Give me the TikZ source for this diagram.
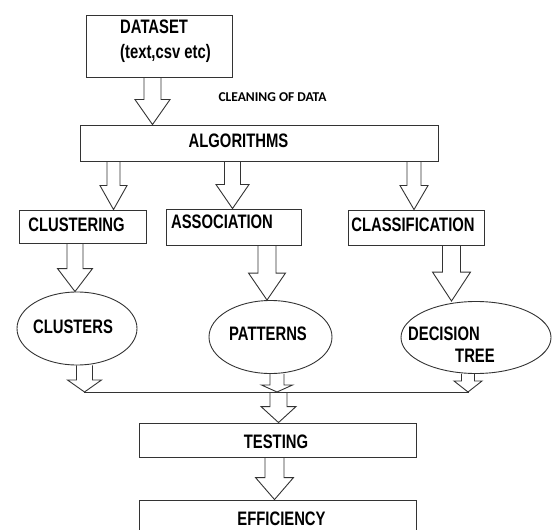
\documentclass[tikz,border=0pt]{standalone}
\usepackage{fontspec}
\setmainfont{Liberation Sans}[FakeStretch=0.76]
\newfontfamily\notefont{Carlito}
\usetikzlibrary{shapes.geometric,calc}

\tikzset{
  outline/.style={draw=black!80, line width=0.9bp},
  box/.style={outline, rectangle, inner sep=0pt},
  oval/.style={outline, ellipse, inner sep=0pt},
  lbl/.style={inner sep=0pt, font=\fontsize{19.5bp}{25bp}\selectfont\bfseries},
  note/.style={inner sep=0pt, font=\notefont\fontsize{13.5bp}{15bp}\selectfont\bfseries},
  hollow/.style={outline, line join=miter},
}

% open-topped block arrow: #1 source point, #2 target point, #3 x position,
% #4 shaft half width, #5 head half width, #6 head length (all in bp)
\newcommand\hollowarrow[6]{%
  \draw[hollow] let \p1=(#1), \p2=(#2) in
    (#3bp-#4bp,\y1) -- (#3bp-#4bp,\y2+#6bp) -- (#3bp-#5bp,\y2+#6bp)
    -- (#3bp,\y2) -- (#3bp+#5bp,\y2+#6bp) -- (#3bp+#4bp,\y2+#6bp)
    -- (#3bp+#4bp,\y1);
}

\begin{document}
\begin{tikzpicture}[x=1bp, y=-1bp]
  \path[use as bounding box] (0,0) rectangle (552,530);
  \clip (0,0) rectangle (552,530);

  % input
  \node[box, minimum width=146bp, minimum height=62bp] (dataset) at (159,46) {};
  \node[lbl, align=left, anchor=west] (datasettxt) at (120,41.5) {DATASET\\(text,csv etc)};
  \node[note] (cleaning) at (272.5,97) {CLEANING OF DATA};

  % algorithms
  \node[box, minimum width=358bp, minimum height=36bp] (alg) at (259,143) {};
  \node[lbl] (algtxt) at (238.5,141) {ALGORITHMS};

  \node[box, minimum width=127bp, minimum height=33bp] (clustering) at (82.5,226.5) {};
  \node[lbl] (clusteringtxt) at (76.5,225) {CLUSTERING};
  \node[box, minimum width=135bp, minimum height=36bp] (association) at (233.5,227) {};
  \node[lbl] (associationtxt) at (222,221.5) {ASSOCIATION};
  \node[box, minimum width=136bp, minimum height=35bp] (classification) at (416,227.5) {};
  \node[lbl] (classificationtxt) at (413,224.5) {CLASSIFICATION};

  % results
  \node[oval, minimum width=120bp, minimum height=73bp] (clusters) at (77,328.5) {};
  \node[lbl] (clusterstxt) at (73,326.5) {CLUSTERS};
  \node[oval, minimum width=123bp, minimum height=73bp] (patterns) at (270.5,337) {};
  \node[lbl] (patternstxt) at (268,334) {PATTERNS};
  \node[oval, minimum width=150bp, minimum height=72bp] (dtree) at (476,337.5) {};
  \node[lbl, align=left, anchor=west] (dtreetxt) at (408,344.75) {DECISION\\[-2.5bp]\hspace*{47bp}TREE};

  % collecting line
  \coordinate (busL) at (84,392);
  \coordinate (busR) at (469,392);
  \draw[outline] (busL) -- (busR);

  % evaluation
  \node[box, minimum width=277bp, minimum height=34bp] (testing) at (277.5,440) {};
  \node[lbl] (testingtxt) at (276,441.5) {TESTING};
  \node[box, minimum width=277bp, minimum height=44bp] (efficiency) at (277.5,522) {};
  \node[lbl] (efficiencytxt) at (281.5,519) {EFFICIENCY};

  % arrows
  \hollowarrow{dataset.south}{alg.north}{152.5}{8.5}{17.5}{25}
  \hollowarrow{alg.south}{clustering.north}{113.5}{6.5}{13.5}{24}
  \hollowarrow{alg.south}{association.north}{232.5}{8}{16.5}{24}
  \hollowarrow{alg.south}{classification.north}{414}{7}{14}{24}
  \hollowarrow{clustering.south}{clusters.north}{75}{8}{17.5}{23}
  \hollowarrow{association.south}{patterns.north}{267}{9}{18.5}{27}
  \hollowarrow{classification.south}{dtree.north}{451.5}{9}{19}{29}
  \hollowarrow{clusters.south}{busL}{84.5}{8}{17}{12}
  \hollowarrow{patterns.south}{busL}{277}{7}{15.5}{7}
  \hollowarrow{dtree.south}{busL}{468}{6.5}{14}{11}
  \hollowarrow{busL}{testing.north}{278.5}{8.5}{17.5}{16}
  \hollowarrow{testing.south}{efficiency.north}{274.5}{9.5}{19}{22}
\end{tikzpicture}
\end{document}
